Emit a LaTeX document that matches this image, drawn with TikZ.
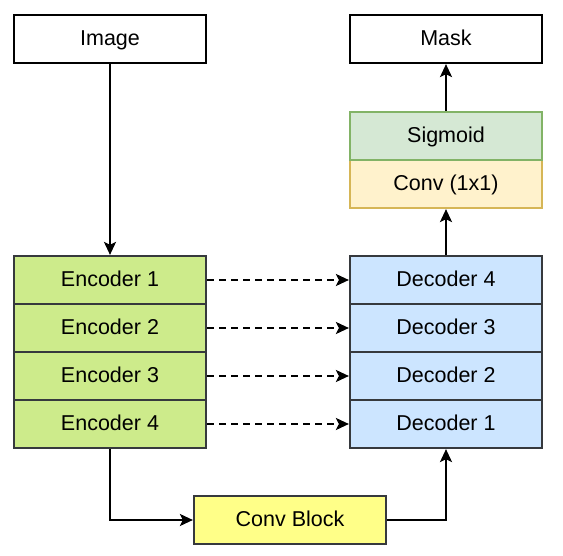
\documentclass[tikz,border=0pt]{standalone}
\usepackage{fontspec}
\setmainfont{Liberation Sans}
\usetikzlibrary{arrows.meta}
\definecolor{encfill}{HTML}{CDEB8B}
\definecolor{decfill}{HTML}{CCE5FF}
\definecolor{darkb}{HTML}{36393D}
\definecolor{cbfill}{HTML}{FFFF88}
\definecolor{sigfill}{HTML}{D5E8D4}
\definecolor{sigdraw}{HTML}{82B366}
\definecolor{cvfill}{HTML}{FFF2CC}
\definecolor{cvdraw}{HTML}{D6B656}
\tikzset{
  blk/.style={draw, line width=2.2pt, minimum width=192pt, minimum height=48pt, inner sep=0pt, text height=13pt, text depth=0pt, font=\fontsize{21.5}{25}\selectfont},
  plain/.style={blk, draw=black, fill=white},
  enc/.style={blk, draw=darkb, fill=encfill},
  dec/.style={blk, draw=darkb, fill=decfill},
  cb/.style={blk, draw=darkb, fill=cbfill},
  sig/.style={blk, draw=sigdraw, fill=sigfill},
  cv/.style={blk, draw=cvdraw, fill=cvfill},
  arr/.style={line width=2.2pt, -{Stealth[length=13pt,width=12pt,inset=3pt]}},
  darr/.style={arr, dash pattern=on 7pt off 5pt}
}
\begin{document}
\begin{tikzpicture}[x=1pt,y=-1pt]
\useasboundingbox (0,0) rectangle (563,556);
\node[plain] (img) at (110,39) {Image};
\node[plain] (mask) at (446,39) {Mask};
\node[cv] (cv) at (446,184) {Conv (1x1)};
\node[sig] (sig) at (446,136) {Sigmoid};
\node[enc] (e1) at (110,280) {Encoder 1};
\node[enc] (e2) at (110,328) {Encoder 2};
\node[enc] (e3) at (110,376) {Encoder 3};
\node[enc] (e4) at (110,424) {Encoder 4};
\node[dec] (d4) at (446,280) {Decoder 4};
\node[dec] (d3) at (446,328) {Decoder 3};
\node[dec] (d2) at (446,376) {Decoder 2};
\node[dec] (d1) at (446,424) {Decoder 1};
\node[cb] (cblk) at (290,520) {Conv Block};
\draw[arr] (img.south) -- (e1.north);
\draw[arr] (e4.south) |- (cblk.west);
\draw[arr] (cblk.east) -| (d1.south);
\draw[arr] (d4.north) -- (cv.south);
\draw[arr] (sig.north) -- (mask.south);
\draw[darr] (e1.east) -- (d4.west);
\draw[darr] (e2.east) -- (d3.west);
\draw[darr] (e3.east) -- (d2.west);
\draw[darr] (e4.east) -- (d1.west);
\end{tikzpicture}
\end{document}
